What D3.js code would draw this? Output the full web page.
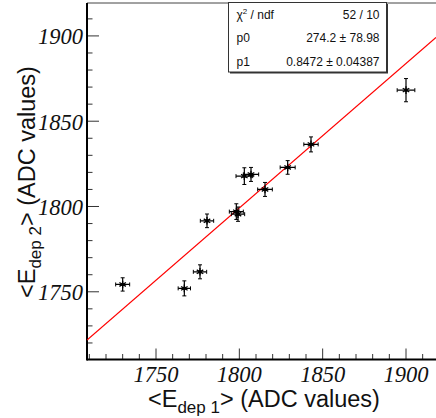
<!DOCTYPE html>
<html>
<head>
<meta charset="utf-8">
<script src="https://cdn.jsdelivr.net/npm/d3@7"></script>
<style>
  html, body { margin: 0; padding: 0; background: #fff; }
  svg { display: block; }
</style>
</head>
<body>
<svg id="chart" width="436" height="418"></svg>
<script>
// Mean deposited energy: detector 1 vs detector 2 (ADC values)
const xVals = [1730.0, 1767.0, 1776.4, 1780.6, 1798.2, 1799.2, 1803.0, 1807.0, 1815.4, 1829.0, 1843.0, 1900.0];
const yVals = [1754.3, 1752.0, 1761.7, 1791.6, 1797.0, 1795.5, 1817.8, 1818.8, 1810.0, 1822.9, 1836.4, 1868.2];
const xErrs = [4.2, 3.7, 4.0, 4.0, 4.2, 4.0, 5.0, 4.6, 4.4, 4.5, 4.3, 5.3];
const yErrs = [3.9, 4.4, 4.1, 4.0, 4.6, 4.2, 4.9, 4.1, 4.1, 4.0, 4.4, 6.8];

// Linear fit y = p0 + p1 * x
const fitNames = ["p0", "p1"];
const fitValues = [274.2, 0.8472];
const fitErrors = ["78.98", "0.04387"];
const fitLabels = ["274.2", "0.8472"];
const chi2Label = "52 / 10";

const xDomain = [1708.6, 1918];
const yDomain = [1710.3, 1919.3];
const majorTicks = [1750, 1800, 1850, 1900];

const svg = d3.select("#chart");
const padL = 87, padR = 436, padT = 3, padB = 359.5;

const x = d3.scaleLinear().domain(xDomain).range([padL, padR]);
const y = d3.scaleLinear().domain(yDomain).range([padB, padT]);

// clip for plot contents
svg.append("defs").append("clipPath").attr("id", "plotClip")
  .append("rect").attr("x", padL).attr("y", padT).attr("width", padR - padL).attr("height", padB - padT);

// Frame top line
svg.append("line").attr("x1", padL).attr("x2", padR).attr("y1", padT).attr("y2", padT)
  .attr("stroke", "#444").attr("stroke-width", 1);

// Ticks (inward), major every 50, minor every 10
const minorX = d3.range(Math.ceil(xDomain[0] / 10) * 10, xDomain[1], 10);
const minorY = d3.range(Math.ceil(yDomain[0] / 10) * 10, yDomain[1], 10);

svg.append("g").selectAll("line").data(minorX).join("line")
  .attr("x1", d => x(d)).attr("x2", d => x(d))
  .attr("y1", padB).attr("y2", d => padB - (d % 50 === 0 ? 11 : 5.5))
  .attr("stroke", "#333").attr("stroke-width", 1);
svg.append("g").selectAll("line").data(minorY).join("line")
  .attr("y1", d => y(d)).attr("y2", d => y(d))
  .attr("x1", padL).attr("x2", d => padL + (d % 50 === 0 ? 12 : 5.5))
  .attr("stroke", "#333").attr("stroke-width", 1);

// Axis lines
svg.append("line").attr("x1", padL).attr("x2", padR).attr("y1", padB).attr("y2", padB)
  .attr("stroke", "#000").attr("stroke-width", 2);
svg.append("line").attr("x1", padL).attr("x2", padL).attr("y1", padT).attr("y2", padB + 1)
  .attr("stroke", "#000").attr("stroke-width", 2);

// Tick labels
const serif = "'Liberation Serif', 'Times New Roman', serif";
svg.append("g").selectAll("text").data(majorTicks).join("text")
  .attr("x", d => x(d)).attr("y", 381.5)
  .attr("text-anchor", "middle")
  .attr("font-family", serif).attr("font-style", "italic").attr("font-size", 22.5)
  .attr("fill", "#111")
  .text(d => d);
svg.append("g").selectAll("text").data(majorTicks).join("text")
  .attr("x", 83).attr("y", d => y(d) + 8.5)
  .attr("text-anchor", "end")
  .attr("font-family", serif).attr("font-style", "italic").attr("font-size", 22.5)
  .attr("fill", "#111")
  .text(d => d);

// Axis titles
const sans = "'Liberation Sans', Arial, Helvetica, sans-serif";
function axisTitle(g, subText) {
  const t = g.append("text").attr("font-family", sans).attr("font-size", 23.5).attr("fill", "#111");
  t.append("tspan").text("<E");
  t.append("tspan").attr("font-size", 17).attr("dy", 6).text("dep " + subText);
  t.append("tspan").attr("dy", -6).text("> (ADC values)");
  return t;
}
axisTitle(svg.append("g").attr("transform", "translate(148,407)"), "1");
axisTitle(svg.append("g").attr("transform", "translate(35,298) rotate(-90)"), "2");

// Fit line
const plot = svg.append("g").attr("clip-path", "url(#plotClip)");
const fitLine = d3.line().x(d => x(d)).y(d => y(fitValues[0] + fitValues[1] * d));
plot.append("path").datum(xDomain)
  .attr("d", fitLine).attr("fill", "none").attr("stroke", "#ff0000").attr("stroke-width", 1.2);

// Data points with error bars
const pts = d3.range(xVals.length).map(i => ({ x: xVals[i], y: yVals[i], ex: xErrs[i], ey: yErrs[i] }));
const pg = plot.append("g").selectAll("g").data(pts).join("g");
const cap = 2;
pg.append("line")
  .attr("x1", d => x(d.x - d.ex)).attr("x2", d => x(d.x + d.ex))
  .attr("y1", d => y(d.y)).attr("y2", d => y(d.y))
  .attr("stroke", "#000").attr("stroke-width", 1.2);
pg.append("line")
  .attr("x1", d => x(d.x)).attr("x2", d => x(d.x))
  .attr("y1", d => y(d.y - d.ey)).attr("y2", d => y(d.y + d.ey))
  .attr("stroke", "#000").attr("stroke-width", 1.2);
// end caps
pg.each(function (d) {
  const g = d3.select(this);
  [d.x - d.ex, d.x + d.ex].forEach(v => g.append("line")
    .attr("x1", x(v)).attr("x2", x(v)).attr("y1", y(d.y) - cap).attr("y2", y(d.y) + cap)
    .attr("stroke", "#000").attr("stroke-width", 1));
  [d.y - d.ey, d.y + d.ey].forEach(v => g.append("line")
    .attr("y1", y(v)).attr("y2", y(v)).attr("x1", x(d.x) - cap).attr("x2", x(d.x) + cap)
    .attr("stroke", "#000").attr("stroke-width", 1));
});
pg.append("path")
  .attr("transform", d => `translate(${x(d.x)},${y(d.y)})`)
  .attr("d", d3.symbol(d3.symbolAsterisk, 40))
  .attr("fill", "none").attr("stroke", "#000").attr("stroke-width", 1.3);
pg.append("rect")
  .attr("x", d => x(d.x) - 1.5).attr("y", d => y(d.y) - 1.5)
  .attr("width", 3).attr("height", 3).attr("fill", "#000");

// Statistics box
const bx = 228.5, by = 2.5, bw = 158, bh = 69.5;
svg.append("rect").attr("x", bx + 1.5).attr("y", by + 1.5).attr("width", bw).attr("height", bh)
  .attr("fill", "#333");
svg.append("rect").attr("x", bx).attr("y", by).attr("width", bw).attr("height", bh)
  .attr("fill", "#fff").attr("stroke", "#333").attr("stroke-width", 1);

const statRows = [
  { name: null, value: chi2Label },
  { name: fitNames[0], value: fitLabels[0] + " \u00b1 " + fitErrors[0] },
  { name: fitNames[1], value: fitLabels[1] + " \u00b1 " + fitErrors[1] }
];
const rowY = [19, 42.3, 65.7];
const sg = svg.append("g").attr("font-family", sans).attr("font-size", 12).attr("fill", "#111");
statRows.forEach((r, i) => {
  const t = sg.append("text").attr("x", 236.5).attr("y", rowY[i]);
  if (r.name === null) {
    t.append("tspan").text("\u03c7");
    t.append("tspan").attr("font-size", 8).attr("dy", -5).text("2");
    t.append("tspan").attr("dy", 5).text(" / ndf");
  } else {
    t.text(r.name);
  }
  sg.append("text").attr("x", 379.5).attr("y", rowY[i]).attr("text-anchor", "end").text(r.value);
});
</script>
</body>
</html>
